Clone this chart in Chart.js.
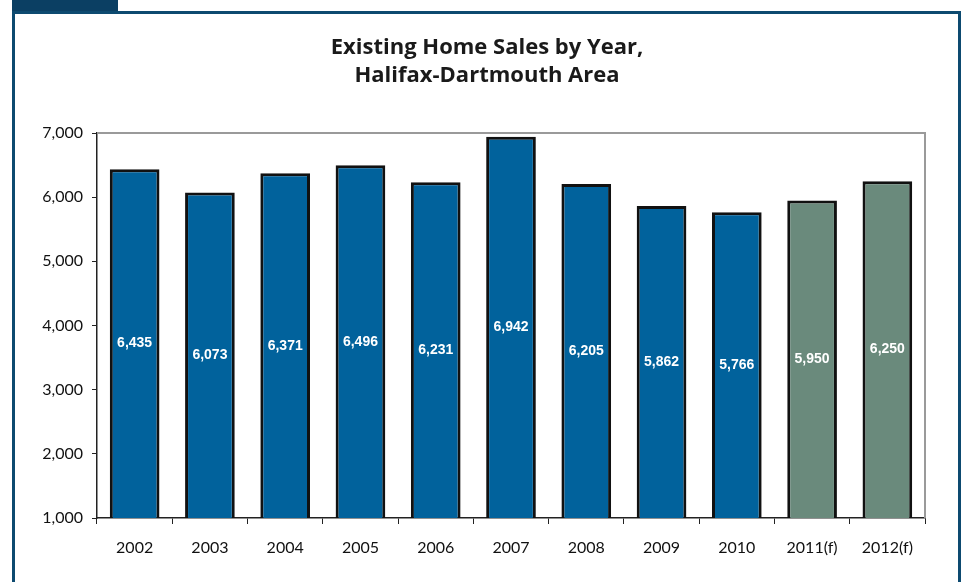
<!DOCTYPE html>
<html lang="en">
<head>
    <meta charset="UTF-8" />
    <title>Existing Home Sales by Year</title>
    <script src="https://cdn.jsdelivr.net/npm/chart.js"></script>
    <style>
        html, body { margin: 0; padding: 0; background: #fff; }
        #wrap { position: relative; width: 962px; height: 582px; overflow: hidden; }
        /* dark tab and frame around the chart */
        #tab { position: absolute; left: 12px; top: 0; width: 106px; height: 12px; background: #0b3f63; }
        #frame { position: absolute; left: 12px; top: 11px; width: 943px; height: 600px; border: 3px solid #0d4a70; }
        #chartContainer { position: absolute; left: 0; top: 0; width: 962px; height: 582px; }
    </style>
</head>
<body>
<div id="wrap">
    <div id="tab"></div>
    <div id="frame"></div>
    <div id="chartContainer">
        <canvas id="myChart"></canvas>
    </div>
</div>

<script>
    // data
    const years = ['2002', '2003', '2004', '2005', '2006', '2007', '2008', '2009', '2010', '2011(f)', '2012(f)'];
    const sales = [6435, 6073, 6371, 6496, 6231, 6942, 6205, 5862, 5766, 5950, 6250];
    const isForecast = [false, false, false, false, false, false, false, false, false, true, true];
    const yTicks = [1000, 2000, 3000, 4000, 5000, 6000, 7000];
    const titleLines = ['Existing Home Sales by Year,', 'Halifax-Dartmouth Area'];

    const BLUE = '#01629c';
    const GREEN = '#6a8a7c';
    const tickFont = { family: 'Lato, "Open Sans", sans-serif', size: 16 };

    // title, plot outline and labels inside the bars
    const extras = {
        id: 'extras',
        beforeDatasetsDraw(chart) {
            const { ctx, chartArea: a } = chart;
            ctx.save();
            ctx.strokeStyle = '#9a9a9a';
            ctx.lineWidth = 2;
            ctx.beginPath();
            ctx.moveTo(a.left, a.top);
            ctx.lineTo(a.right, a.top);
            ctx.lineTo(a.right, a.bottom);
            ctx.stroke();
            ctx.restore();
        },
        afterDatasetsDraw(chart) {
            const { ctx, chartArea: a } = chart;
            const meta = chart.getDatasetMeta(0);
            ctx.save();
            ctx.fillStyle = '#ffffff';
            ctx.font = 'bold 14px "Liberation Sans", Arial, sans-serif';
            ctx.textAlign = 'center';
            ctx.textBaseline = 'middle';
            meta.data.forEach((bar, i) => {
                const bottom = Math.min(bar.base, a.bottom);
                ctx.fillText(sales[i].toLocaleString('en-US'), bar.x, (bar.y + bottom) / 2);
            });
            ctx.restore();
        },
        afterDraw(chart) {
            const { ctx } = chart;
            ctx.save();
            ctx.fillStyle = '#1a1a1a';
            ctx.font = 'bold 22px "Open Sans", Lato, sans-serif';
            ctx.textAlign = 'center';
            ctx.textBaseline = 'middle';
            titleLines.forEach((t, i) => ctx.fillText(t, 487, 48 + i * 28));
            ctx.restore();
        }
    };

    document.addEventListener('DOMContentLoaded', function () {
        const ctx = document.getElementById('myChart').getContext('2d');
        new Chart(ctx, {
            type: 'bar',
            data: {
                labels: years,
                datasets: [{
                    label: 'Existing home sales',
                    data: sales,
                    backgroundColor: isForecast.map(f => f ? GREEN : BLUE),
                    borderColor: '#111111',
                    borderWidth: 3,
                    borderSkipped: false,
                    categoryPercentage: 1,
                    barPercentage: 0.66
                }]
            },
            options: {
                responsive: true,
                maintainAspectRatio: false,
                animation: false,
                layout: { padding: { left: 0, right: 37, top: 133, bottom: 24 } },
                plugins: {
                    legend: { display: false },
                    title: { display: false },
                    tooltip: { enabled: false }
                },
                scales: {
                    x: {
                        grid: {
                            display: true,
                            offset: true,
                            drawOnChartArea: false,
                            drawTicks: true,
                            tickLength: 6,
                            color: '#222'
                        },
                        border: { display: true, color: '#222', width: 1.5 },
                        ticks: { color: '#111', font: tickFont, padding: 14, maxRotation: 0 },
                        afterFit(scale) { scale.height = 40; }
                    },
                    y: {
                        min: 1000,
                        max: 7000,
                        afterBuildTicks(scale) { scale.ticks = yTicks.map(v => ({ value: v })); },
                        grid: {
                            drawOnChartArea: false,
                            drawTicks: true,
                            tickLength: 5,
                            color: '#222'
                        },
                        border: { display: true, color: '#222', width: 1.5 },
                        ticks: {
                            color: '#111',
                            font: tickFont,
                            padding: 9,
                            callback: v => v.toLocaleString('en-US')
                        },
                        afterFit(scale) { scale.width = 97; }
                    }
                }
            },
            plugins: [extras]
        });
    });
</script>
</body>
</html>
